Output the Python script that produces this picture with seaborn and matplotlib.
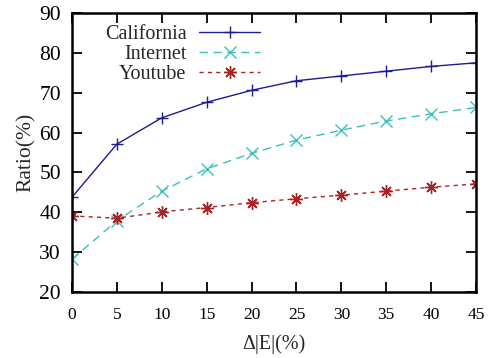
import matplotlib
matplotlib.use("Agg")
import matplotlib.pyplot as plt
import seaborn as sns
import pandas as pd

x_vals = [0, 5, 10, 15, 20, 25, 30, 35, 40, 45]
california = [43.8, 57.1, 63.7, 67.6, 70.6, 73.0, 74.2, 75.4, 76.6, 77.5]
internet = [28.2, 37.9, 45.3, 50.9, 54.8, 58.1, 60.6, 62.9, 64.7, 66.3]
youtube = [39.1, 38.5, 40.1, 41.2, 42.4, 43.4, 44.3, 45.3, 46.3, 47.1]
x_ticks = [0, 5, 10, 15, 20, 25, 30, 35, 40, 45]
y_ticks = [20, 30, 40, 50, 60, 70, 80, 90]

sns.set_style("ticks")
plt.rcParams['font.family'] = ['Liberation Serif', 'DejaVu Serif']

fig = plt.figure(figsize=(4.92, 3.58), dpi=100)
ax = fig.add_axes([72/492, 1-292/358, (476-72)/492, (292-13)/358])

series = [
    ("California", california, "#1c1c96", "+", "-"),
    ("Internet", internet, "#3bbfbf", "x", (0, (6, 4))),
    ("Youtube", youtube, "#a82424", (8, 2, 0), (0, (3, 3))),
]
for name, vals, col, mk, ls in series:
    df = pd.DataFrame({"x": x_vals, "y": vals})
    sns.lineplot(data=df, x="x", y="y", ax=ax, color=col, marker=mk,
                 linestyle=ls, linewidth=1.0, markersize=9,
                 markeredgewidth=1.0, markeredgecolor=col, label=name)

ax.set_xlim(0, 45)
ax.set_ylim(20, 90)
ax.set_xticks(x_ticks)
ax.set_yticks(y_ticks)
ax.tick_params(axis='both', direction='in', length=7, width=1.3,
               top=True, right=True, colors='black')
ax.tick_params(axis='x', labelsize=12.5, pad=11)
ax.tick_params(axis='y', labelsize=15.5, pad=8)
for sp in ax.spines.values():
    sp.set_visible(True)
    sp.set_linewidth(1.8)
    sp.set_color('black')
ax.set_xlabel("Δ|E|(%)", fontsize=14.5, labelpad=8)
ax.set_ylabel("Ratio(%)", fontsize=15.5, labelpad=2)

handles = ax.lines[:3]
leg = ax.legend(handles=handles, labels=[s[0] for s in series],
                loc='upper right', bbox_to_anchor=(0.465, 0.957),
                frameon=False, markerfirst=False, numpoints=1,
                handlelength=3.0, handletextpad=0.65, labelspacing=0.04,
                fontsize=14.5, borderaxespad=0, borderpad=0)

fig.savefig("out.png", dpi=100)
